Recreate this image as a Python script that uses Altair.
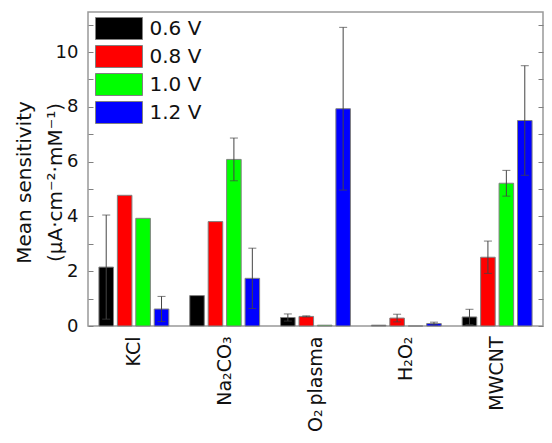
import altair as alt
import pandas as pd

categories = ["KCl", "Na₂CO₃", "O₂\u2009plasma", "H₂O₂", "MWCNT"]
voltages = ["0.6 V", "0.8 V", "1.0 V", "1.2 V"]
colors = ["#000000", "#ff0000", "#00ff00", "#0000ff"]

v06 = [2.15, 1.11, 0.31, 0.03, 0.33]
e06 = [1.90, 0.00, 0.13, 0.00, 0.28]
v08 = [4.77, 3.81, 0.35, 0.29, 2.51]
e08 = [0.00, 0.00, 0.02, 0.14, 0.59]
v10 = [3.93, 6.08, 0.03, 0.00, 5.21]
e10 = [0.00, 0.78, 0.00, 0.00, 0.47]
v12 = [0.62, 1.74, 7.93, 0.09, 7.50]
e12 = [0.46, 1.10, 2.97, 0.05, 2.00]

rows = []
for volt, vals, errs in zip(voltages, [v06, v08, v10, v12], [e06, e08, e10, e12]):
    for c, v, e in zip(categories, vals, errs):
        rows.append({"cat": c, "volt": volt, "val": v, "err": e, "lo": v - e, "hi": v + e})
df = pd.DataFrame(rows)
err_df = df[df["err"] > 0]

FONT = "DejaVu Sans"
ydom = [0, 11.46]

x_enc = alt.X("cat:N", sort=categories,
              scale=alt.Scale(paddingInner=0.19, paddingOuter=0.1),
              axis=alt.Axis(title=None, domain=False, ticks=False, labelAngle=-90,
                            labelPadding=10, labelFontSize=19, labelFont=FONT,
                            labelColor="#111111"))
xo_enc = alt.XOffset("volt:N", sort=voltages,
                     scale=alt.Scale(paddingInner=0.21, paddingOuter=0.1))

bars = alt.Chart(df).mark_bar(stroke="#808080", strokeWidth=1).encode(
    x=x_enc,
    xOffset=xo_enc,
    y=alt.Y("val:Q", scale=alt.Scale(domain=ydom, nice=False, zero=True),
            axis=alt.Axis(values=list(range(0, 12)), offset=-5, tickSize=5,
                          tickColor="#808080", domain=False, grid=False,
                          labelExpr="datum.value % 2 == 0 ? datum.label : ''",
                          labelPadding=10, labelFontSize=18, labelFont=FONT,
                          labelColor="#111111",
                          title=["Mean sensitivity", "(µA·cm⁻²·mM⁻¹)"],
                          titleFontSize=20, titleFont=FONT, titleFontWeight="normal",
                          titleColor="#111111", titleLineHeight=31,
                          titleX=-59, titleY=170)),
    color=alt.Color("volt:N", sort=voltages,
                    scale=alt.Scale(domain=voltages, range=colors),
                    legend=alt.Legend(title=None, orient="none", legendX=19.5, legendY=5,
                                      symbolType="M-2.136,-1L2.136,-1L2.136,1L-2.136,1Z",
                                      symbolSize=484, symbolStrokeColor="#808080",
                                      symbolStrokeWidth=1, symbolOpacity=1,
                                      labelFontSize=20, labelFont=FONT, labelColor="#111111",
                                      labelOffset=19, rowPadding=1)),
)

rules = alt.Chart(err_df).mark_rule(color="#444444", strokeWidth=1).encode(
    x=alt.X("cat:N", sort=categories),
    xOffset=alt.XOffset("volt:N", sort=voltages),
    y=alt.Y("lo:Q", scale=alt.Scale(domain=ydom, nice=False),
            axis=alt.Axis(orient="right", values=list(range(0, 12)), offset=-5, tickSize=5,
                          tickColor="#808080", domain=False, grid=False, labels=False,
                          title=None)),
    y2="hi:Q",
)

caps_lo = alt.Chart(err_df).mark_tick(color="#444444", thickness=1, size=8).encode(
    x=alt.X("cat:N", sort=categories),
    xOffset=alt.XOffset("volt:N", sort=voltages),
    y=alt.Y("lo:Q", scale=alt.Scale(domain=ydom, nice=False), axis=None),
)
caps_hi = alt.Chart(err_df).mark_tick(color="#444444", thickness=1, size=8).encode(
    x=alt.X("cat:N", sort=categories),
    xOffset=alt.XOffset("volt:N", sort=voltages),
    y=alt.Y("hi:Q", scale=alt.Scale(domain=ydom, nice=False), axis=None),
)

chart = alt.layer(bars, rules, caps_lo, caps_hi).resolve_scale(y="independent").properties(
    width=455, height=314,
    autosize=alt.AutoSizeParams(type="none"),
    padding={"left": 80, "top": 4, "right": 1, "bottom": 109},
).configure_view(stroke="#999999", strokeWidth=1.5)

chart.save("out.html", embed_options={"renderer": "svg", "actions": False})
